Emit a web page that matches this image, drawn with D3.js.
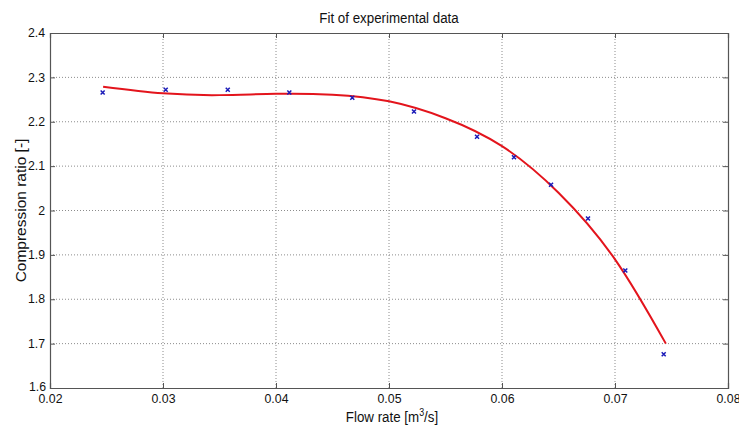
<!DOCTYPE html>
<html>
<head>
<meta charset="utf-8">
<script src="https://cdn.jsdelivr.net/npm/d3@7"></script>
<style>
  body { margin: 0; background: #fff; }
  svg { display: block; font-family: "Liberation Sans", Arial, sans-serif; }
</style>
</head>
<body>
<div id="chart"></div>
<script>
// measured points
var flowRate = [0.02466, 0.03024, 0.03573, 0.04118, 0.04675, 0.05221, 0.05779, 0.06106, 0.06434, 0.06761, 0.07091, 0.07431];
var compressionRatio = [2.266, 2.272, 2.272, 2.266, 2.254, 2.223, 2.166, 2.120, 2.058, 1.982, 1.865, 1.676];

// fitted curve
var fitFlow = [0.0247, 0.030, 0.035, 0.040, 0.045, 0.050, 0.055, 0.060, 0.065, 0.070, 0.0745];
var fitRatio = [2.279, 2.264, 2.260, 2.263, 2.261, 2.246, 2.208, 2.145, 2.040, 1.890, 1.700];

var xTicks = [0.02, 0.03, 0.04, 0.05, 0.06, 0.07, 0.08];
var yTicks = [1.6, 1.7, 1.8, 1.9, 2.0, 2.1, 2.2, 2.3, 2.4];

var W = 739, H = 428,
    margin = {top: 33, right: 11, bottom: 40, left: 50},
    plotW = W - margin.left - margin.right,
    plotH = H - margin.top - margin.bottom,
    squeeze = 0.89; // text in the picture is slightly narrow

var svg = d3.select('#chart').append('svg')
    .attr('width', W)
    .attr('height', H);

var x = d3.scaleLinear().domain([0.02, 0.08]).range([0, plotW]);
var y = d3.scaleLinear().domain([1.6, 2.4]).range([plotH, 0]);

var scene = svg.append('g')
    .attr('transform', 'translate(' + margin.left + ',' + margin.top + ')');

// grid
scene.append('g').selectAll('line.gx')
    .data(xTicks.slice(1, -1))
    .enter().append('line')
    .attr('x1', d => x(d)).attr('x2', d => x(d))
    .attr('y1', 0).attr('y2', plotH)
    .attr('stroke', '#8c8c8c').attr('stroke-width', 1)
    .attr('stroke-dasharray', '1,2');

scene.append('g').selectAll('line.gy')
    .data(yTicks.slice(1, -1))
    .enter().append('line')
    .attr('x1', 0).attr('x2', plotW)
    .attr('y1', d => y(d)).attr('y2', d => y(d))
    .attr('stroke', '#8c8c8c').attr('stroke-width', 1)
    .attr('stroke-dasharray', '1,2');

// axes with inward ticks on all four sides
var fmt = d => d3.format('')(+d.toFixed(2));

var xAxis = scene.append('g')
    .attr('transform', 'translate(0,' + plotH + ')')
    .call(d3.axisBottom(x).tickValues(xTicks).tickSize(-5).tickPadding(0).tickFormat(fmt));
var xTop = scene.append('g')
    .call(d3.axisTop(x).tickValues(xTicks).tickSize(-5).tickFormat(''));
var yAxis = scene.append('g')
    .call(d3.axisLeft(y).tickValues(yTicks).tickSize(-5).tickPadding(0).tickFormat(fmt));
var yRight = scene.append('g')
    .attr('transform', 'translate(' + plotW + ',0)')
    .call(d3.axisRight(y).tickValues(yTicks).tickSize(-5).tickFormat(''));

scene.selectAll('.domain').attr('stroke', '#555').attr('stroke-width', 1.2);
scene.selectAll('.tick line').attr('stroke', '#555');

xAxis.selectAll('.tick text')
    .attr('fill', '#111')
    .style('font-size', '12.3px')
    .attr('y', 0)
    .attr('dy', 0)
    .attr('transform', 'translate(0,15)');

yAxis.selectAll('.tick text')
    .attr('fill', '#111')
    .style('font-size', '12.3px')
    .attr('x', 0)
    .attr('dy', '0.3em')
    .attr('text-anchor', 'end')
    .attr('transform', d => d === 1.6 ? 'translate(-4,-1)' : 'translate(-5,0)');

// fitted line
var line = d3.line()
    .x((d, i) => x(fitFlow[i]))
    .y(d => y(d))
    .curve(d3.curveNatural);

scene.append('path')
    .datum(fitRatio)
    .attr('d', line)
    .attr('fill', 'none')
    .attr('stroke', '#e3141c')
    .attr('stroke-width', 2);

// measured points as small x markers
var s = 2;
var marks = scene.append('g').selectAll('path.pt')
    .data(flowRate)
    .enter().append('path')
    .attr('d', (d, i) => {
        var px = x(d), py = y(compressionRatio[i]);
        return 'M' + (px - s) + ',' + (py - s) + 'L' + (px + s) + ',' + (py + s) +
               'M' + (px - s) + ',' + (py + s) + 'L' + (px + s) + ',' + (py - s);
    })
    .attr('stroke', '#1a1ab8')
    .attr('stroke-width', 1.5);

// titles
svg.append('text')
    .attr('transform', 'translate(' + (margin.left + plotW / 2) + ',23) scale(' + squeeze + ',1)')
    .attr('text-anchor', 'middle')
    .style('font-size', '15px')
    .attr('fill', '#111')
    .text('Fit of experimental data');

var xl = svg.append('text')
    .attr('transform', 'translate(' + (margin.left + plotW / 2 + 3) + ',422) scale(' + squeeze + ',1)')
    .attr('text-anchor', 'middle')
    .style('font-size', '15px')
    .attr('fill', '#111');
xl.append('tspan').text('Flow rate [m');
xl.append('tspan').attr('dy', -6).style('font-size', '10px').text('3');
xl.append('tspan').attr('dy', 6).text('/s]');

// rotated label: the narrowing acts across the text, not along it
svg.append('text')
    .attr('transform', 'translate(26,' + (margin.top + plotH / 2) + ') rotate(-90) scale(1,' + squeeze + ')')
    .attr('text-anchor', 'middle')
    .style('font-size', '15.5px')
    .attr('fill', '#111')
    .text('Compression ratio [-]');
</script>
</body>
</html>
